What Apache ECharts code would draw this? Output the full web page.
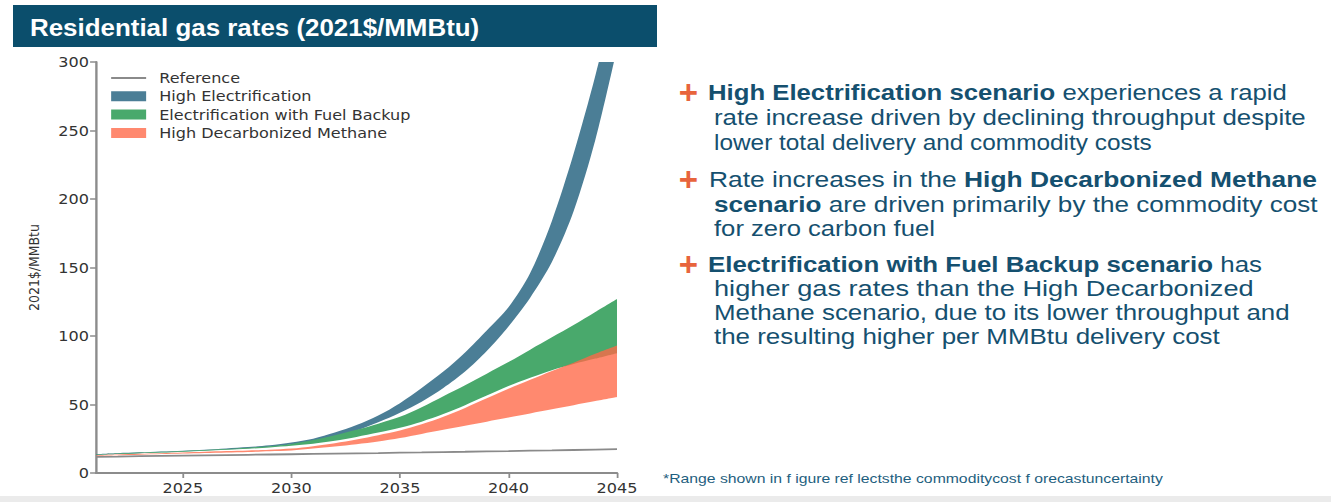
<!DOCTYPE html>
<html>
<head>
<meta charset="utf-8">
<script src="https://cdn.jsdelivr.net/npm/echarts@6/dist/echarts.min.js"></script>
<style>
  html, body { margin: 0; padding: 0; background: #fff; width: 1331px; height: 502px; overflow: hidden; }
  #slide { position: absolute; left: 0; top: 0; width: 1331px; height: 502px; }
  /* the plot is laid out narrow and widened horizontally */
  #plot { position: absolute; left: 0; top: 0; width: 560px; height: 502px; transform: scaleX(1.19); transform-origin: 0 0; }
</style>
</head>
<body>
<div id="slide"></div>
<div id="plot"></div>
<script>
// Years on the horizontal axis
const years = ['2021','2022','2023','2024','2025','2026','2027','2028','2029','2030',
               '2031','2032','2033','2034','2035','2036','2037','2038','2039','2040',
               '2041','2042','2043','2044','2045'];

// Residential gas rate, 2021$/MMBtu
const reference = [11.8,12.0,12.3,12.5,12.7,12.9,13.1,13.3,13.5,13.7,13.9,14.1,14.3,14.5,14.8,15.0,15.3,15.5,15.8,16.0,16.3,16.5,16.8,17.1,17.4];

const highElecLow  = [13.3,13.9,14.5,15.1,15.7,16.4,17.2,18.1,19.2,20.8,23.0,26.5,31,37,44,52,62,74,89,107,128,154,191,243,310];
const highElecHigh = [13.9,14.5,15.1,15.7,16.3,17.0,17.9,18.9,20.2,22.2,25,29.5,35,42,51,62,74,88,104,121,146,184,233,290,355];

const fuelBackupLow  = [13.2,13.8,14.4,15.0,15.6,16.2,16.9,17.7,18.6,19.8,21.3,23.5,26.3,29.5,33,37.5,43,49.5,56.5,63.5,69.5,75,79.5,83.5,87.5];
const fuelBackupHigh = [13.7,14.3,14.9,15.5,16.1,16.8,17.6,18.5,19.6,21.2,24,27.5,31.5,36,41,48,56,64,72.5,81,90,99,108,117.5,127];

const decarbMethaneLow  = [12.6,13.0,13.4,13.8,14.2,14.6,15.0,15.4,15.9,16.4,17.8,19.3,21,23,25.5,28.5,31.5,34.5,37.5,40.5,43.5,46.5,49.5,52.5,55.5];
const decarbMethaneHigh = [13.0,13.5,14.0,14.5,15.0,15.5,16.0,16.5,17.0,17.8,19.6,21.8,24.5,27.6,31,35.5,41,47.5,54.5,61.5,68,74.5,80.5,87,93];

const yTicks = { min: 0, max: 300, step: 50 };
const scenarioNames = ['Reference', 'High Electrification', 'Electrification with Fuel Backup', 'High Decarbonized Methane'];

const FONT_PLOT = 'DejaVu Sans';
const FONT_SLIDE = 'Liberation Sans';
const TEAL = '#0b4e6c';
const TEXT_TEAL = '#15506f';
const AXIS_GREY = '#8c8c8c';

// A range band: an invisible lower line plus a stacked, filled difference
function band(stackKey, name, low, high, color) {
  const diff = high.map((v, i) => +(v - low[i]).toFixed(2));
  return [
    {
      type: 'line', name: stackKey + ' base', stack: stackKey, data: low,
      symbol: 'none', smooth: 0.3, silent: true,
      lineStyle: { width: 0, opacity: 0 }
    },
    {
      type: 'line', name: name, stack: stackKey, data: diff,
      symbol: 'none', smooth: 0.3, silent: true,
      color: color, itemStyle: { color: color },
      lineStyle: { width: 0, opacity: 0 },
      areaStyle: { color: color, opacity: 1 }
    }
  ];
}

const plot = echarts.init(document.getElementById('plot'), null, { renderer: 'svg' });
plot.setOption({
  animation: false,
  grid: { left: 80.7, right: 41.5, top: 62, bottom: 29 },
  legend: {
    orient: 'vertical', left: 92.4, top: 71, padding: 0, itemGap: 4.3,
    itemWidth: 29.4, itemHeight: 10,
    textStyle: { fontFamily: FONT_PLOT, fontSize: 13.5, color: '#333', lineHeight: 14, padding: [0, 0, 0, 6] },
    data: [
      { name: scenarioNames[0], itemStyle: { opacity: 0 } },
      { name: scenarioNames[1], icon: 'rect' },
      { name: scenarioNames[2], icon: 'rect' },
      { name: scenarioNames[3], icon: 'rect' }
    ]
  },
  xAxis: {
    type: 'category', data: years, boundaryGap: false,
    axisLine: { lineStyle: { color: AXIS_GREY, width: 2 } },
    axisTick: { length: 5, lineStyle: { color: AXIS_GREY, width: 1.5 }, interval: (i, v) => +v % 5 === 0 },
    axisLabel: { interval: (i, v) => +v % 5 === 0, fontFamily: FONT_PLOT, fontSize: 13.5, color: '#333', margin: 8 },
    splitLine: { show: false }
  },
  yAxis: {
    type: 'value', min: yTicks.min, max: yTicks.max, interval: yTicks.step,
    name: '2021$/MMBtu', nameLocation: 'middle', nameGap: 46,
    nameTextStyle: { fontFamily: FONT_PLOT, fontSize: 12.5, color: '#333' },
    axisLine: { show: true, lineStyle: { color: AXIS_GREY, width: 2 } },
    axisTick: { show: true, length: 5, lineStyle: { color: AXIS_GREY, width: 1.5 } },
    axisLabel: { fontFamily: FONT_PLOT, fontSize: 13.5, color: '#333', margin: 6 },
    splitLine: { show: false }
  },
  series: [
    ...band('he', scenarioNames[1], highElecLow, highElecHigh, '#4b7e96'),
    ...band('ef', scenarioNames[2], fuelBackupLow, fuelBackupHigh, '#49a96c'),
    ...band('dm', scenarioNames[3], decarbMethaneLow, decarbMethaneHigh, 'rgba(255,104,70,0.78)'),
    {
      type: 'line', name: scenarioNames[0], data: reference, symbol: 'none', silent: true,
      color: '#8a8a8a', lineStyle: { color: '#8a8a8a', width: 1.8 }
    }
  ]
});

// Slide furniture: heading bar, commentary bullets and footnote.
// Each commentary line is set justified: it is stretched to end at `right`.
const bulletLines = [
  { y: 92,  x: 708, right: 1287, bullet: true,  segs: [['High Electrification scenario', 1], [' experiences a rapid', 0]] },
  { y: 117, x: 714, right: 1306, bullet: false, segs: [['rate increase driven by declining throughput despite', 0]] },
  { y: 142, x: 714, right: 1152, bullet: false, segs: [['lower total delivery and commodity costs', 0]] },
  { y: 179, x: 709, right: 1317, bullet: true,  segs: [['Rate increases in the ', 0], ['High Decarbonized Methane', 1]] },
  { y: 204, x: 714, right: 1318, bullet: false, segs: [['scenario', 1], [' are driven primarily by the commodity cost', 0]] },
  { y: 228, x: 714, right: 935,  bullet: false, segs: [['for zero carbon fuel', 0]] },
  { y: 264, x: 708, right: 1262, bullet: true,  segs: [['Electrification with Fuel Backup scenario', 1], [' has', 0]] },
  { y: 288, x: 714, right: 1254, bullet: false, segs: [['higher gas rates than the High Decarbonized', 0]] },
  { y: 312, x: 714, right: 1290, bullet: false, segs: [['Methane scenario, due to its lower throughput and', 0]] },
  { y: 336, x: 714, right: 1220, bullet: false, segs: [['the resulting higher per MMBtu delivery cost', 0]] }
];
const footnote = { x: 663, right: 1163, y: 478, text: '*Range shown in f igure ref lectsthe commoditycost f orecastuncertainty' };

const bodySize = 22.5;
const measureCtx = document.createElement('canvas').getContext('2d');
function measure(text, size, bold) {
  measureCtx.font = (bold ? 'bold ' : '') + size + 'px "' + FONT_SLIDE + '"';
  return measureCtx.measureText(text).width;
}

const graphics = [
  { type: 'rect', shape: { x: 13, y: 5, width: 644, height: 42 }, style: { fill: TEAL } },
  {
    type: 'text', x: 30, y: 27, scaleX: 1.08,
    style: { text: 'Residential gas rates (2021$/MMBtu)', fill: '#ffffff',
             fontFamily: FONT_SLIDE, fontWeight: 'bold', fontSize: 24, verticalAlign: 'middle' }
  },
  { type: 'rect', shape: { x: 0, y: 496, width: 1331, height: 6 }, style: { fill: '#ebebeb' } },
  {
    type: 'text', x: footnote.x, y: footnote.y,
    scaleX: (footnote.right - footnote.x) / measure(footnote.text, 13, false),
    style: { text: footnote.text, fill: '#1f5f80', fontFamily: FONT_SLIDE, fontSize: 13, verticalAlign: 'middle' }
  }
];
bulletLines.forEach(line => {
  if (line.bullet) {
    graphics.push({
      type: 'text', x: 688.5, y: line.y,
      style: { text: '+', fill: '#e8643c', fontFamily: FONT_SLIDE, fontWeight: 'bold', fontSize: 33,
               align: 'center', verticalAlign: 'middle' }
    });
  }
  const natural = line.segs.reduce((w, s) => w + measure(s[0], bodySize, s[1] === 1), 0);
  graphics.push({
    type: 'text', x: line.x, y: line.y, scaleX: (line.right - line.x) / natural,
    style: {
      text: line.segs.map(s => '{' + (s[1] ? 'b' : 'n') + '|' + s[0] + '}').join(''),
      verticalAlign: 'middle', fill: TEXT_TEAL, fontFamily: FONT_SLIDE, fontSize: bodySize,
      rich: {
        b: { fontFamily: FONT_SLIDE, fontSize: bodySize, fontWeight: 'bold', fill: TEXT_TEAL },
        n: { fontFamily: FONT_SLIDE, fontSize: bodySize, fontWeight: 'normal', fill: TEXT_TEAL }
      }
    }
  });
});

const slide = echarts.init(document.getElementById('slide'), null, { renderer: 'svg' });
slide.setOption({ animation: false, graphic: graphics });
</script>
</body>
</html>
